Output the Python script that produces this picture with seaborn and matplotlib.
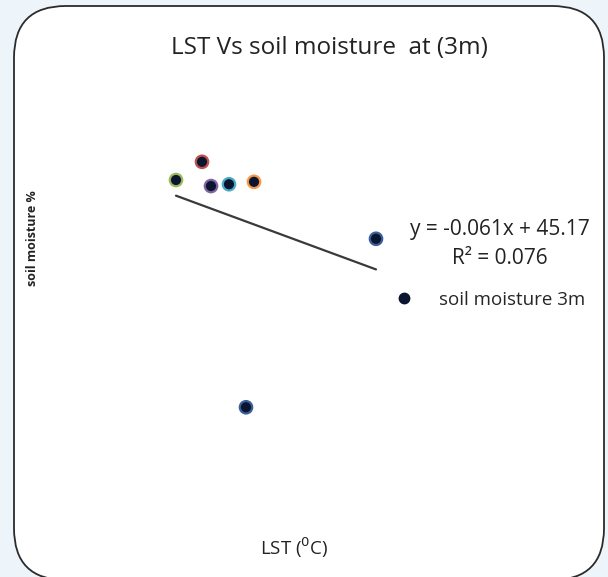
import numpy as np
import pandas as pd
import seaborn as sns
import matplotlib.pyplot as plt
from matplotlib.patches import FancyBboxPatch
from matplotlib.lines import Line2D

# data (LST in degC, soil moisture in %)
lst = [27.6, 30.2, 31.1, 32.9, 35.4, 47.6, 34.6]
moisture = [43.74, 44.04, 43.64, 43.67, 43.71, 42.77, 39.99]
point_edges = ["#9bbb59", "#c0504d", "#8064a2", "#4bacc6", "#f79646", "#3a5f9a", "#3a5f9a"]
equation = "y = -0.061x + 45.17"
r_squared = "R² = 0.076"

df = pd.DataFrame({"lst": lst, "moisture": moisture})

sns.set_theme(style="white")
plt.rcParams["font.family"] = ["Open Sans", "DejaVu Sans"]

fig = plt.figure(figsize=(6.08, 5.77), dpi=100)
fig.patch.set_facecolor("#edf5fb")

# rounded white frame
frame = FancyBboxPatch((14 / 608, (577 - 580) / 577), 590 / 608, 574 / 577,
                       boxstyle="round,pad=0,rounding_size=0.085",
                       transform=fig.transFigure, facecolor="white",
                       edgecolor="#2b2b2b", linewidth=1.3, mutation_aspect=608 / 577,
                       zorder=-5)
fig.patches.append(frame)

ax = fig.add_axes([60 / 608, 77 / 577, 500 / 608, 440 / 577])
ax.set_zorder(2)
ax.set_xlim(16, 66)
ax.set_ylim(38.46, 45.72)
ax.axis("off")

# linear trendline from the data
slope, intercept = np.polyfit(df["lst"], df["moisture"], 1)
xs = np.array([df["lst"].min(), df["lst"].max()])
trend = pd.DataFrame({"x": xs, "y": slope * xs + intercept})
sns.lineplot(data=trend, x="x", y="y", ax=ax, color="#3a3a3a", linewidth=1.6)

sns.scatterplot(data=df, x="lst", y="moisture", ax=ax, s=80,
                color="#0b1530", edgecolor=point_edges, linewidth=1.6, zorder=3)

handle = Line2D([], [], linestyle="none", marker="o", markersize=7.5,
                markerfacecolor="#0b1530", markeredgecolor="#0b1530")
fig.legend([handle], ["soil moisture 3m"], loc="center left",
           bbox_to_anchor=(390 / 608, 1 - 300 / 577), frameon=False,
           fontsize=13.5, handlelength=1.5, handletextpad=1.1, borderaxespad=0,
           borderpad=0)

fig.text(329 / 608, 1 - 48 / 577, "LST Vs soil moisture  at (3m)",
         ha="center", va="center", fontsize=17.5, color="#222222")
fig.text(500 / 608, 1 - 230 / 577, equation, ha="center", va="center",
         fontsize=15, color="#222222")
fig.text(500 / 608, 1 - 259 / 577, r_squared, ha="center", va="center",
         fontsize=15, color="#222222")
fig.text(294 / 608, 1 - 548 / 577, "LST ($^0$C)", ha="center", va="center",
         fontsize=13.5, color="#222222")
fig.text(33 / 608, 1 - 238 / 577, "soil moisture %", ha="center", va="center",
         rotation=90, fontsize=9, fontweight="bold", color="#222222")

fig.savefig("out.png", dpi=100, facecolor=fig.get_facecolor())
